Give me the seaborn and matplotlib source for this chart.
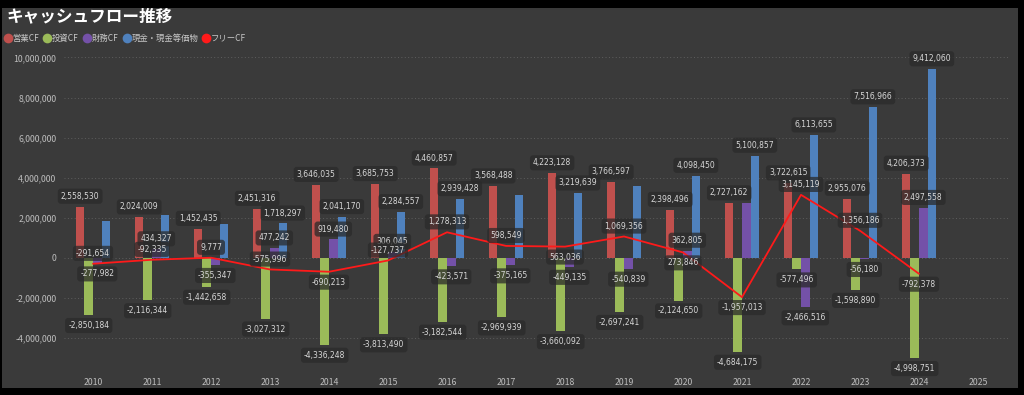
import numpy as np
import pandas as pd
import matplotlib
matplotlib.use("Agg")
import matplotlib.pyplot as plt
from matplotlib.lines import Line2D
from matplotlib.patches import Rectangle
import seaborn as sns

# ==============================
# DATA
# ==============================

years = [str(y) for y in range(2010, 2026)]

operating_cf = [2558530, 2024009, 1452435, 2451316, 3646035, 3685753, 4460857, 3568488,
                4223128, 3766597, 2398496, 2727162, 3722615, 2955076, 4206373, np.nan]
investing_cf = [-2850184, -2116344, -1442658, -3027312, -4336248, -3813490, -3182544, -2969939,
                -3660092, -2697241, -2124650, -4684175, -577496, -1598890, -4998751, np.nan]
financing_cf = [-277982, 434327, -355347, 477242, 919480, 306045, -423571, -375165,
                -449135, -540839, 362805, 2720000, -2466516, -56180, 2497558, np.nan]
cash = [1860000, 2140000, 1690000, 1718297, 2041170, 2284557, 2939428, 3150000,
        3219639, 3600000, 4098450, 5100857, 6113655, 7516966, 9412060, np.nan]
free_cf = [-291654, -92335, 9777, -575996, -690213, -127737, 1278313, 598549,
           563036, 1069356, 273846, -1957013, 3145119, 1356186, -792378, np.nan]

series_names = ["営業CF", "投資CF", "財務CF", "現金・現金等価物"]
free_name = "フリーCF"

# values whose data label is not shown in the original
hidden_labels = {("現金・現金等価物", "2010"), ("現金・現金等価物", "2011"),
                 ("現金・現金等価物", "2012"), ("現金・現金等価物", "2017"),
                 ("現金・現金等価物", "2019"), ("財務CF", "2021")}
# free CF labels drawn under the line point
fcf_below = {"2014", "2018", "2020", "2021", "2024"}

colors = {"営業CF": "#c0504d", "投資CF": "#9bbb59", "財務CF": "#7451a8",
          "現金・現金等価物": "#4f81bd"}
line_color = "#ff1a1a"

df = pd.DataFrame({
    "年": years * 4,
    "区分": np.repeat(series_names, len(years)),
    "金額": operating_cf + investing_cf + financing_cf + cash,
})

# ==============================
# STYLE
# ==============================

sns.set_theme(style="dark")
plt.rcParams["font.family"] = ["Noto Sans CJK JP", "DejaVu Sans"]

bg = "#3a3a3a"
text_col = "#d8d8d8"

fig = plt.figure(figsize=(10.24, 3.95), dpi=100, facecolor="#000000")
fig.patches.append(Rectangle((0.002, 0.018), 0.992, 0.962, transform=fig.transFigure,
                             facecolor=bg, edgecolor="none", zorder=-10))

ax = fig.add_axes([63.5 / 1024, 1 - 372 / 395, 944 / 1024, 320 / 395])
ax.set_facecolor(bg)

# ==============================
# BARS
# ==============================

sns.barplot(data=df, x="年", y="金額", hue="区分", order=years, hue_order=series_names,
            palette=colors, width=0.58, gap=0, saturation=1, errorbar=None,
            legend=False, ax=ax, zorder=3, edgecolor="none", linewidth=0)

# free CF line
sns.lineplot(x=np.arange(len(years)), y=free_cf, color=line_color, linewidth=1.3,
             ax=ax, zorder=5)

ax.set_xlim(-0.5, len(years) - 0.5)
ax.set_ylim(-5690000, 10270000)
ax.set_yticks(np.arange(-4000000, 10000001, 2000000))
ax.yaxis.set_major_formatter(matplotlib.ticker.FuncFormatter(lambda v, p: f"{v:,.0f}"))
ax.grid(axis="y", color="#5e5e5e", linestyle=(0, (1, 2.5)), linewidth=0.7)
ax.grid(axis="x", visible=False)
ax.set_axisbelow(True)
for s in ax.spines.values():
    s.set_visible(False)
ax.set_xlabel("")
ax.set_ylabel("")
ax.tick_params(axis="both", colors="#bdbdbd", labelsize=6.3, length=0, pad=5)
ax.tick_params(axis="x", pad=4)

# ==============================
# DATA LABELS
# ==============================

box = dict(boxstyle="round,pad=0.4", facecolor="#2a2a2a", edgecolor="none", alpha=0.75)
label_kw = dict(textcoords="offset points", ha="center", va="center", fontsize=5.5,
                color=text_col, bbox=box, zorder=6, family="DejaVu Sans")

for cont, name in zip(ax.containers, series_names):
    for bar in cont:
        h = bar.get_height()
        if np.isnan(h):
            continue
        xc = bar.get_x() + bar.get_width() / 2
        year = years[int(round(xc))]
        if (name, year) in hidden_labels:
            continue
        off = 7.5 if h >= 0 else -7.5
        ax.annotate(f"{h:,.0f}", (xc, h), xytext=(0, off), **label_kw)

for i, (year, v) in enumerate(zip(years, free_cf)):
    if np.isnan(v):
        continue
    off = -7.5 if year in fcf_below else 7.5
    ax.annotate(f"{v:,.0f}", (i, v), xytext=(0, off), **label_kw)

# ==============================
# TITLE AND LEGEND
# ==============================

fig.text(0.006, 1 - 16 / 395, "キャッシュフロー推移", color="white", fontsize=12,
         va="center", ha="left", fontweight="bold")

handles = [Line2D([], [], marker="o", linestyle="none", markersize=7,
                  markerfacecolor=colors[n], markeredgecolor="none") for n in series_names]
handles.append(Line2D([], [], marker="o", linestyle="none", markersize=7,
                      markerfacecolor=line_color, markeredgecolor="none"))
leg = fig.legend(handles, series_names + [free_name], loc="center left",
                 bbox_to_anchor=(0.0, 1 - 38 / 395), ncol=5, frameon=False,
                 fontsize=6, handletextpad=0.1, columnspacing=0.45, borderaxespad=0,
                 handlelength=1.0)
for t in leg.get_texts():
    t.set_color("#c8c8c8")

fig.savefig("out.png", dpi=100, facecolor=fig.get_facecolor())
